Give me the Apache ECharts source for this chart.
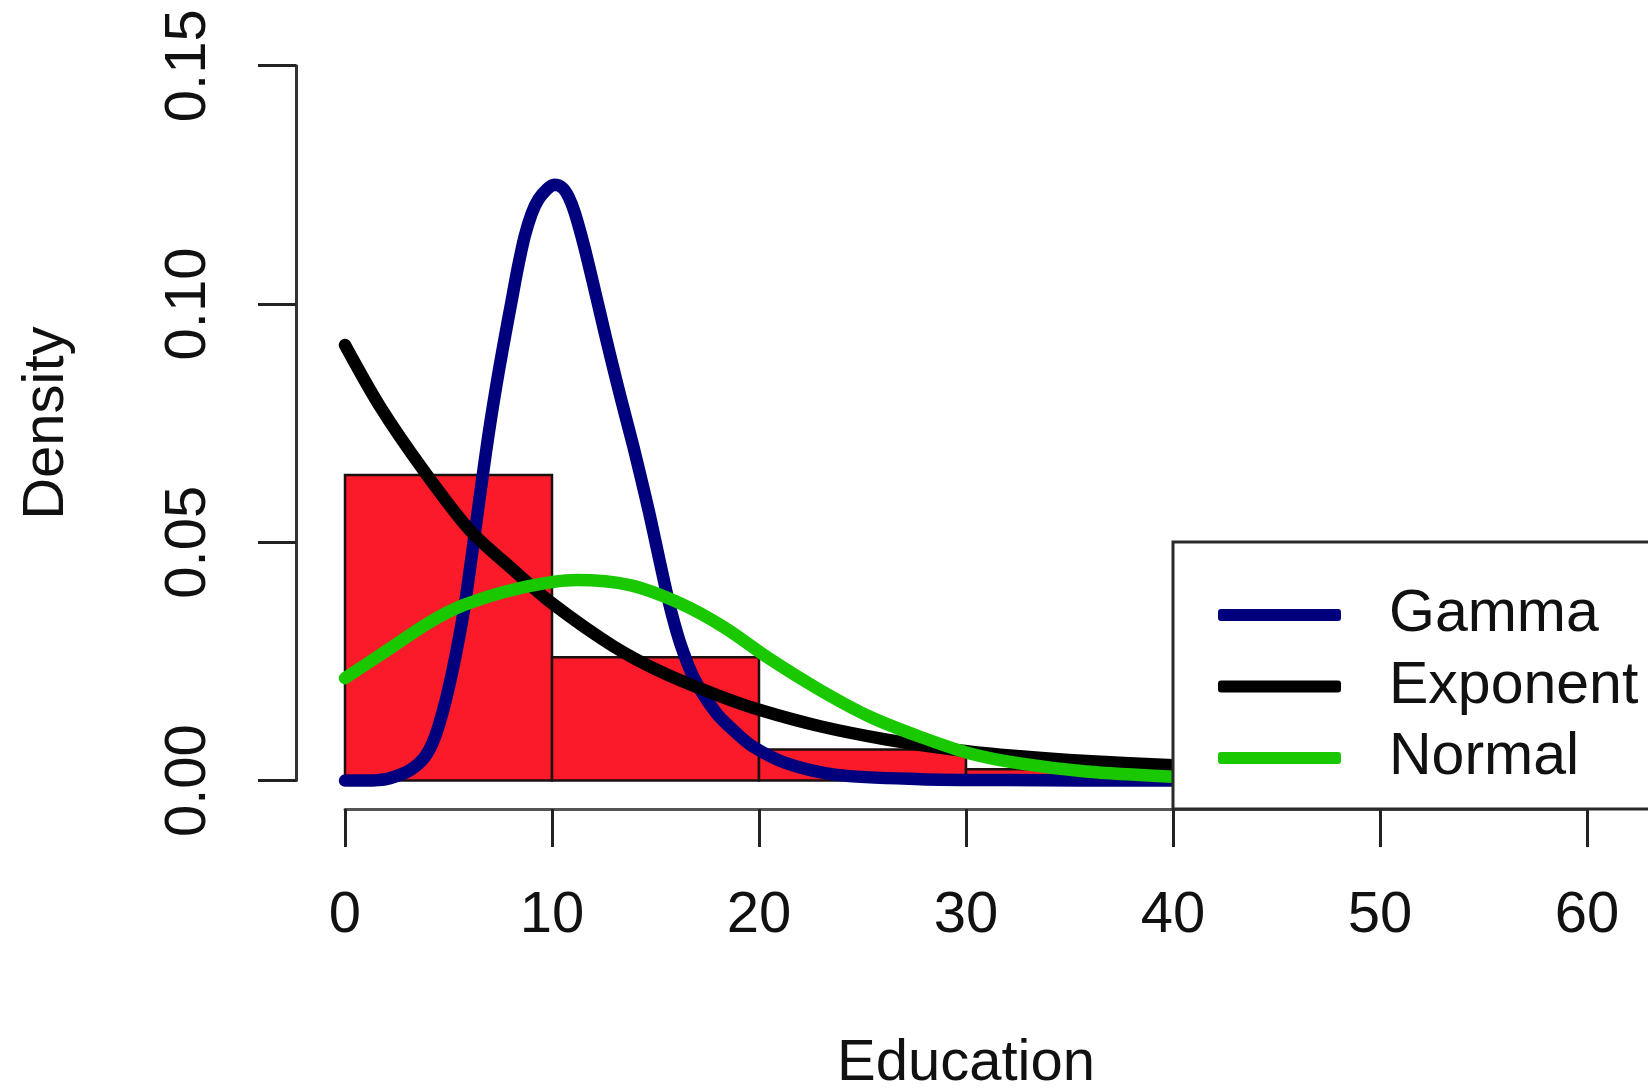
<!DOCTYPE html>
<html><head><meta charset="utf-8">
<script src="https://cdn.jsdelivr.net/npm/echarts@6/dist/echarts.min.js"></script>
<style>html,body{margin:0;padding:0;background:#fff}#c{width:1648px;height:1090px}</style>
</head><body><div id="c"></div>
<script>
// Histogram bins (Education) and densities
const binStart = [0, 10, 20, 30];
const binEnd   = [10, 20, 30, 40];
const binDensity = [0.0641, 0.0259, 0.0065, 0.0024];

// Fitted curves: [x, density]
const gammaCurve = [[0,0],[1,0],[1.6,0.0001],[2.17,0.0005],[3.14,0.0022],[3.86,0.0050],[4.35,0.0092],[4.83,0.0162],[5.20,0.0232],[5.52,0.0302],[5.80,0.0372],[6.03,0.0442],[6.25,0.0512],[6.47,0.0582],[6.69,0.0652],[6.92,0.0722],[7.17,0.0792],[7.44,0.0862],[7.73,0.0932],[8.03,0.1002],[8.33,0.1072],[8.68,0.1142],[9.02,0.1190],[9.35,0.1220],[9.74,0.1240],[10.1,0.1250],[10.5,0.1244],[10.8,0.1225],[11.11,0.1190],[11.56,0.1120],[11.95,0.1050],[12.33,0.0980],[12.71,0.0910],[13.10,0.0841],[13.51,0.0771],[13.93,0.0701],[14.32,0.0631],[14.70,0.0561],[15.05,0.0491],[15.40,0.0421],[15.78,0.0351],[16.25,0.0281],[16.9,0.0211],[17.95,0.0141],[18.9,0.0100],[19.72,0.0071],[21.34,0.0036],[23.75,0.0012],[27.8,0.0003],[32,0.0001],[40,0]];
const expCurve = [[0,0.0914],[1.69,0.0785],[3.78,0.0652],[6.04,0.0525],[8.13,0.0442],[10,0.0372],[12.96,0.0282],[15.38,0.0226],[18.12,0.0177],[20.05,0.0148],[22.95,0.0114],[26.17,0.0086],[29.4,0.0065],[32.6,0.0051],[35.83,0.0041],[40,0.0032]];
const normalCurve = [[0,0.0215],[2.17,0.0277],[4.0,0.0330],[5.72,0.0368],[8.45,0.0404],[11.2,0.0421],[13.77,0.0410],[16.18,0.0372],[18.3,0.0322],[20.53,0.0255],[22.95,0.0190],[25.36,0.0134],[27.78,0.0092],[30.19,0.0057],[32.6,0.0036],[35.8,0.0019],[40,0.0008]];

const seriesNames = ['Gamma', 'Exponent', 'Normal'];
const seriesColors = ['#00007f', '#000000', '#1ac800'];

const FONT = "'Liberation Sans', Arial, Helvetica, sans-serif";
const FS = 58;

const chart = echarts.init(document.getElementById('c'), null, {renderer: 'canvas'});

const histData = binStart.map((s, i) => [s, binEnd[i], binDensity[i]]);

const lineSeries = [gammaCurve, expCurve, normalCurve].map((d, i) => ({
  type: 'line', name: seriesNames[i], data: d, smooth: 0.3, symbol: 'none',
  clip: false, z: 3 + i,
  lineStyle: {color: seriesColors[i], width: 12.5, cap: 'round', join: 'round'},
  itemStyle: {color: seriesColors[i]}
}));

chart.setOption({
  animation: false,
  backgroundColor: '#ffffff',
  textStyle: {fontFamily: FONT},
  grid: {left: 345, right: 61, top: 65.7, bottom: 309.4, containLabel: false, outerBoundsMode: 'none'},
  xAxis: {
    type: 'value', min: 0, max: 60, interval: 10, offset: 28.4,
    name: 'Education', nameLocation: 'middle', nameGap: 226,
    nameTextStyle: {fontSize: FS, color: '#111', fontFamily: FONT, lineHeight: FS},
    axisLine: {show: true, onZero: false, lineStyle: {color: '#555', width: 3}},
    axisTick: {show: true, length: 38, lineStyle: {color: '#222', width: 3}},
    axisLabel: {fontSize: FS, color: '#111', fontFamily: FONT, margin: 78, lineHeight: FS},
    splitLine: {show: false}
  },
  yAxis: {
    type: 'value', min: 0, max: 0.15, interval: 0.05, offset: 49,
    name: 'Density', nameLocation: 'middle', nameGap: 220,
    nameTextStyle: {fontSize: FS, color: '#111', fontFamily: FONT, lineHeight: FS},
    axisLine: {show: true, onZero: false, lineStyle: {color: '#333', width: 3}},
    axisTick: {show: true, length: 38, lineStyle: {color: '#222', width: 3}},
    axisLabel: {fontSize: FS, color: '#111', fontFamily: FONT, margin: 78, rotate: 90, lineHeight: FS,
      formatter: v => v.toFixed(2)},
    splitLine: {show: false}
  },
  graphic: [{
    type: 'rect', z: 8,
    shape: {x: 1173, y: 542, width: 600, height: 267},
    style: {fill: '#ffffff', stroke: '#2a2a2a', lineWidth: 3}
  }],
  legend: {
    orient: 'vertical', left: 1173, top: 545,
    data: seriesNames.map((n, i) => ({name: n, icon: 'roundRect', itemStyle: {color: seriesColors[i]}})),
    itemWidth: 123, itemHeight: 12, itemGap: 11.5,
    padding: [40, 40, 24, 45],
    textStyle: {fontSize: 59, color: '#111', fontFamily: FONT, lineHeight: 60, padding: [0, 0, 0, 43]},
    selectedMode: false, z: 10
  },
  series: [{
    type: 'custom', name: 'hist', data: histData, z: 2, clip: false,
    renderItem: (params, api) => {
      const p0 = api.coord([api.value(0), api.value(2)]);
      const p1 = api.coord([api.value(1), 0]);
      return {type: 'rect', shape: {x: p0[0], y: p0[1], width: p1[0] - p0[0], height: p1[1] - p0[1]},
        style: {fill: '#fb1a2a', stroke: '#1a1010', lineWidth: 2.5}};
    }
  }].concat(lineSeries)
});
</script></body></html>
